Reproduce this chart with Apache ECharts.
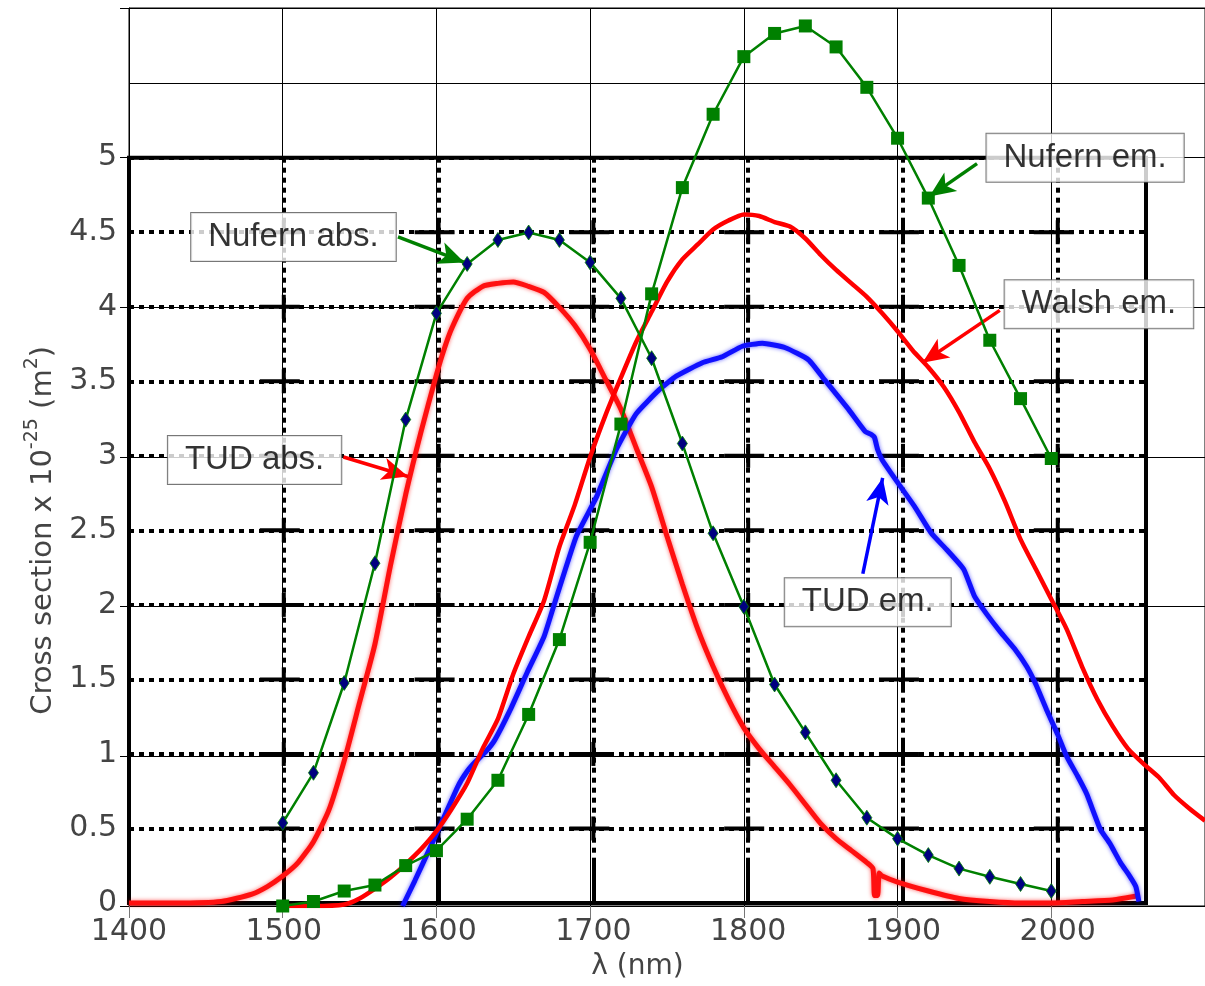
<!DOCTYPE html>
<html>
<head>
<meta charset="utf-8">
<script src="https://cdn.jsdelivr.net/npm/echarts@6/dist/echarts.min.js"></script>
<style>
  html, body { margin: 0; padding: 0; background: #fff; }
  #chart { width: 1205px; height: 986px; }
</style>
</head>
<body>
<div id="chart"></div>
<script>
// Tm-doped fibre cross sections (absorption / emission), wavelength in nm

// Nufern datasheet points, every 20 nm
const nufernLambda = [1500,1520,1540,1560,1580,1600,1620,1640,1660,1680,1700,1720,1740,
                      1760,1780,1800,1820,1840,1860,1880,1900,1920,1940,1960,1980,2000];
const nufernAbs = [0.555,0.89,1.49,2.29,3.25,3.96,4.29,4.45,4.50,4.45,4.30,4.06,3.66,
                   3.09,2.49,2.00,1.48,1.16,0.84,0.59,0.45,0.34,0.25,0.195,0.147,0.10];
const nufernEm = [0.00,0.03,0.10,0.14,0.27,0.37,0.58,0.84,1.28,1.78,2.43,3.22,4.09,
                  4.80,5.29,5.675,5.83,5.88,5.74,5.47,5.13,4.73,4.28,3.78,3.39,2.99];

// TUD absorption (measured)
const tudAbsLambda = [1400,1430,1460,1480,1490,1500,1510,1520,1530,1540,1550,1560,1570,1580,1590,
                      1600,1605,1610,1620,1630,1640,1650,1660,1670,1680,1690,1700,1710,1720,1730,
                      1740,1750,1760,1770,1780,1790,1800,1810,1820,1830,1840,1850,1860,1870,1880,
                      1884,1885,1887,1888,1890,1900,1920,1940,1960,1980,2000,2020,2040,2057];
const tudAbs = [0.02,0.02,0.03,0.08,0.13,0.20,0.29,0.43,0.64,0.97,1.36,1.75,2.27,2.75,3.17,
                3.55,3.72,3.86,4.06,4.14,4.16,4.17,4.14,4.10,4.00,3.88,3.72,3.52,3.32,3.06,
                2.80,2.47,2.15,1.85,1.60,1.38,1.19,1.05,0.93,0.81,0.68,0.55,0.45,0.37,0.29,
                0.25,0.07,0.07,0.22,0.20,0.16,0.10,0.05,0.03,0.02,0.02,0.03,0.04,0.07];

// TUD emission (measured)
const tudEmLambda = [1578,1586,1595,1603,1614,1620,1625,1632,1638,1648,1659,1670,1678,1691,1704,
                     1717,1730,1745,1756,1773,1786,1799,1812,1827,1842,1853,1868,1879,1883,1885,
                     1887,1890,1900,1911,1922,1932,1943,1950,1958,1967,1976,1984,1990,1997,2004,
                     2010,2017,2023,2032,2038,2045,2051,2055,2057];
const tudEm = [0.00,0.17,0.37,0.55,0.80,0.90,0.96,1.03,1.11,1.31,1.56,1.80,2.06,2.47,2.73,
               3.05,3.29,3.45,3.54,3.63,3.67,3.74,3.76,3.73,3.65,3.51,3.32,3.17,3.15,3.13,
               3.05,2.98,2.83,2.67,2.49,2.38,2.25,2.07,1.95,1.83,1.72,1.60,1.48,1.31,1.15,
               1.00,0.87,0.75,0.51,0.42,0.29,0.20,0.13,0.03];

// Walsh emission (McCumber-derived)
const walshLambda = [1500,1520,1540,1550,1562,1570,1580,1590,1600,1610,1620,1630,1640,1650,1660,
                     1670,1680,1690,1700,1710,1720,1730,1740,1750,1760,1770,1780,1790,1800,1810,
                     1820,1830,1840,1850,1860,1870,1880,1890,1900,1910,1920,1930,1940,1950,1960,
                     1970,1980,1990,2000,2010,2020,2030,2040,2050,2060,2070,2080,2090,2100];
const walshEm = [0.00,0.00,0.01,0.05,0.13,0.19,0.28,0.38,0.50,0.65,0.82,1.05,1.25,1.55,1.80,
                 2.04,2.40,2.68,3.00,3.28,3.53,3.77,3.97,4.17,4.32,4.42,4.52,4.58,4.62,4.61,
                 4.57,4.54,4.46,4.35,4.25,4.16,4.07,3.96,3.84,3.71,3.60,3.47,3.30,3.10,2.92,
                 2.70,2.45,2.25,2.05,1.85,1.60,1.38,1.20,1.05,0.95,0.86,0.74,0.65,0.57];

// Axis ticks
const xTicks = [1400,1500,1600,1700,1800,1900,2000];
const yTicks = [0,0.5,1,1.5,2,2.5,3,3.5,4,4.5,5];

// Callout boxes: label and box centre (lambda, value)
const calloutText = ['Nufern abs.','Nufern em.','Walsh em.','TUD abs.','TUD em.'];
const calloutPos = [[1507,4.47],[2022,5.0],[2031,4.02],[1481.7,2.98],[1880.6,2.03]];
// Callout arrows: from / to in data units
const arrowFrom = [[1575,4.47],[1951.7,4.96],[1966.5,3.98],[1539.5,3.0],[1877.4,2.22]];
const arrowTo   = [[1618.3,4.30],[1920.7,4.74],[1916.2,3.63],[1581.5,2.87],[1890.3,2.86]];
const arrowColor = ['#008000','#008000','#ff0000','#ff0000','#0000ff'];

const zip = (xs, ys) => xs.map((x, i) => [x, ys[i]]);

// Intersections of the dotted grid (interior only)
const crossPts = [];
xTicks.slice(1).forEach(x => yTicks.slice(1, -1).forEach(y => crossPts.push([x, y])));

const FONT = 'Liberation Sans, Arial, sans-serif';
const TICK_FONT = 'DejaVu Sans, sans-serif';
const LABEL_COLOR = '#444444';

const chart = echarts.init(document.getElementById('chart'));

const option = {
  backgroundColor: '#fff',
  animation: false,
  grid: [
    // thin outer frame, 0..6 by 1400..2100
    { left: 129, top: 8, width: 1083.6, height: 898, show: true,
      borderColor: '#000', borderWidth: 1, backgroundColor: 'transparent' },
    // heavy framed plot area, 0..5 by 1400..2057
    { left: 129, top: 157.7, width: 1017, height: 748.3, show: true,
      borderColor: '#000', borderWidth: 4, backgroundColor: 'transparent' }
  ],
  xAxis: [
    { gridIndex: 0, type: 'value', min: 1400, max: 2100, interval: 100,
      axisLine: { show: true, lineStyle: { color: '#000', width: 1 } },
      axisTick: { show: true, inside: false, length: 12, lineStyle: { color: '#777', width: 1 } },
      axisLabel: { show: false },
      splitLine: { show: true, lineStyle: { color: '#000', width: 1 } } },
    { gridIndex: 1, type: 'value', min: 1400, max: 2057, interval: 100,
      axisLine: { show: false },
      axisTick: { show: true, inside: true, length: 44, lineStyle: { color: '#000', width: 4 } },
      axisLabel: { show: true, showMaxLabel: false, margin: 14, color: LABEL_COLOR,
                   fontFamily: TICK_FONT, fontSize: 30, formatter: v => String(v) },
      splitLine: { show: true, lineStyle: { color: '#000', width: 4, type: [5, 5] } },
      name: 'λ (nm)', nameLocation: 'middle', nameGap: 50,
      nameTextStyle: { color: LABEL_COLOR, fontFamily: TICK_FONT, fontSize: 28 } }
  ],
  yAxis: [
    { gridIndex: 0, type: 'value', min: 0, max: 6, interval: 1,
      axisLine: { show: true, lineStyle: { color: '#000', width: 1 } },
      axisTick: { show: true, inside: false, length: 9, lineStyle: { color: '#000', width: 1 } },
      axisLabel: { show: false },
      splitLine: { show: true, lineStyle: { color: '#000', width: 1 } } },
    { gridIndex: 1, type: 'value', min: 0, max: 5, interval: 0.5,
      axisLine: { show: false },
      axisTick: { show: false },
      axisLabel: { show: true, margin: 12, color: LABEL_COLOR, fontFamily: TICK_FONT,
                   fontSize: 30, formatter: v => String(v) },
      splitLine: { show: true, lineStyle: { color: '#000', width: 4, type: [5, 5] } },
      name: '{a|Cross section x 10}{s|-25}{a| (m}{s|2}{a|)}',
      nameLocation: 'middle', nameGap: 64, nameRotate: 90,
      nameTextStyle: {
        color: LABEL_COLOR,
        rich: {
          a: { fontFamily: TICK_FONT, fontSize: 29, color: LABEL_COLOR, lineHeight: 36, verticalAlign: 'bottom' },
          s: { fontFamily: TICK_FONT, fontSize: 19, color: LABEL_COLOR, lineHeight: 36, verticalAlign: 'top' }
        }
      } }
  ],
  series: [
    // extra thin horizontal rule of the outer frame
    { type: 'line', xAxisIndex: 0, yAxisIndex: 0, data: [], silent: true,
      markLine: { silent: true, symbol: 'none', label: { show: false },
                  lineStyle: { color: '#000', width: 1, type: 'solid' },
                  data: [{ yAxis: 5.5 }] } },
    // solid crosses where the dotted grid lines meet
    { type: 'custom', xAxisIndex: 1, yAxisIndex: 1, data: crossPts, silent: true, z: 1,
      renderItem: (params, api) => {
        const p = api.coord([api.value(0), api.value(1)]);
        const st = { stroke: '#000', lineWidth: 4 };
        return { type: 'group', children: [
          { type: 'line', shape: { x1: p[0] - 24, y1: p[1], x2: p[0] + 16, y2: p[1] }, style: st },
          { type: 'line', shape: { x1: p[0], y1: p[1] - 12, x2: p[0], y2: p[1] + 12 }, style: st }
        ] };
      } },
    { name: 'TUD abs.', type: 'line', xAxisIndex: 0, yAxisIndex: 0, data: zip(tudAbsLambda, tudAbs),
      symbol: 'none', smooth: 0.2, z: 3,
      lineStyle: { color: '#ff1010', width: 5, shadowBlur: 4, shadowColor: 'rgba(255,0,0,0.6)' } },
    { name: 'TUD em.', type: 'line', xAxisIndex: 0, yAxisIndex: 0, data: zip(tudEmLambda, tudEm),
      symbol: 'none', smooth: 0.15, z: 3,
      lineStyle: { color: '#1010ff', width: 5, shadowBlur: 4, shadowColor: 'rgba(0,0,255,0.6)' } },
    { name: 'Walsh em.', type: 'line', xAxisIndex: 0, yAxisIndex: 0, data: zip(walshLambda, walshEm),
      symbol: 'none', smooth: 0.2, z: 4,
      lineStyle: { color: '#ff0000', width: 4.5 } },
    { name: 'Nufern abs.', type: 'line', xAxisIndex: 0, yAxisIndex: 0, data: zip(nufernLambda, nufernAbs),
      symbol: 'diamond', symbolSize: [10, 15], z: 5,
      itemStyle: { color: '#000080', borderColor: '#008000', borderWidth: 0.8 },
      lineStyle: { color: '#008000', width: 2.5 } },
    { name: 'Nufern em.', type: 'line', xAxisIndex: 0, yAxisIndex: 0, data: zip(nufernLambda, nufernEm),
      symbol: 'rect', symbolSize: 13, z: 5,
      itemStyle: { color: '#008000', borderWidth: 0 },
      lineStyle: { color: '#008000', width: 2.5 } },
    // callout arrows
    { type: 'line', xAxisIndex: 0, yAxisIndex: 0, data: [], z: 6, silent: true,
      markLine: { silent: true, animation: false, label: { show: false },
        data: arrowFrom.map((f, i) => [
          { coord: f, symbol: 'none', lineStyle: { color: arrowColor[i], width: 3.5, type: 'solid' } },
          { coord: arrowTo[i], symbol: 'arrow', symbolSize: [17, 26] }
        ]) } },
    // callout boxes
    { type: 'scatter', xAxisIndex: 0, yAxisIndex: 0, z: 7, silent: true, symbolSize: 0,
      data: calloutPos.map((p, i) => ({ value: p, name: calloutText[i] })),
      label: { show: true, position: 'inside', formatter: d => d.name,
               color: '#000', fontFamily: FONT, fontSize: 33,
               textBorderWidth: 0, textShadowBlur: 0,
               backgroundColor: '#fff', borderColor: '#555', borderWidth: 1,
               padding: [8, 17, 7, 17] } }
  ]
};

chart.setOption(option);
</script>
</body>
</html>
